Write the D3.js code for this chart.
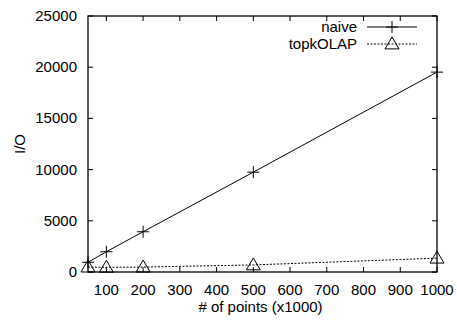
<!DOCTYPE html>
<html>
<head>
<meta charset="utf-8">
<script src="https://cdn.jsdelivr.net/npm/d3@7"></script>
<style>
  body { margin: 0; background: #fff; }
  text { font-family: "Liberation Sans", Arial, sans-serif; fill: #000; }
</style>
</head>
<body>
<svg id="chart" width="457" height="322"></svg>
<script>
const xPoints = [50, 100, 200, 500, 1000];
const naiveIO = [950, 1980, 3930, 9750, 19520];
const topkIO = [480, 460, 480, 690, 1350];
const xTicks = [100, 200, 300, 400, 500, 600, 700, 800, 900, 1000];
const yTicks = [0, 5000, 10000, 15000, 20000, 25000];
const seriesNames = ['naive', 'topkOLAP'];

const svg = d3.select('#chart');
const margin = { top: 16, right: 20, bottom: 50, left: 88 };
const width = 457, height = 322;
const innerW = width - margin.left - margin.right;
const innerH = height - margin.top - margin.bottom;

const x = d3.scaleLinear().domain([50, 1000]).range([margin.left, margin.left + innerW]);
const y = d3.scaleLinear().domain([0, 25000]).range([margin.top + innerH, margin.top]);

const fontSize = '15px';

// ticks, inward on all four sides
const tickLen = 5;
const ax = svg.append('g').attr('stroke', '#000').attr('stroke-width', 1);
xTicks.forEach((t) => {
  ax.append('line').attr('x1', x(t)).attr('x2', x(t)).attr('y1', y(0)).attr('y2', y(0) - tickLen);
  ax.append('line').attr('x1', x(t)).attr('x2', x(t)).attr('y1', y(25000)).attr('y2', y(25000) + tickLen);
});
yTicks.forEach((t) => {
  ax.append('line').attr('x1', x(50)).attr('x2', x(50) + tickLen).attr('y1', y(t)).attr('y2', y(t));
  ax.append('line').attr('x1', x(1000)).attr('x2', x(1000) - tickLen).attr('y1', y(t)).attr('y2', y(t));
});

svg.append('rect')
  .attr('x', x(50)).attr('y', y(25000))
  .attr('width', x(1000) - x(50)).attr('height', y(0) - y(25000))
  .attr('fill', 'none').attr('stroke', '#000').attr('stroke-width', 1.3);

svg.selectAll('text.xtick').data(xTicks).enter().append('text')
  .attr('class', 'xtick')
  .attr('x', (d) => x(d)).attr('y', y(0) + 23)
  .attr('text-anchor', 'middle').style('font-size', fontSize)
  .text((d) => d);

svg.selectAll('text.ytick').data(yTicks).enter().append('text')
  .attr('class', 'ytick')
  .attr('x', x(50) - 11).attr('y', (d) => y(d) + 5)
  .attr('text-anchor', 'end').style('font-size', fontSize)
  .text((d) => d);

svg.append('text')
  .attr('x', (x(50) + x(1000)) / 2 - 2).attr('y', 312)
  .attr('text-anchor', 'middle').style('font-size', fontSize)
  .text('# of points (x1000)');

svg.append('text')
  .attr('transform', `translate(25,${(y(0) + y(25000)) / 2}) rotate(-90)`)
  .attr('text-anchor', 'middle').style('font-size', fontSize)
  .text('I/O');

const line = d3.line().x((d) => x(d[0])).y((d) => y(d[1]));
const naiveData = xPoints.map((v, i) => [v, naiveIO[i]]);
const topkData = xPoints.map((v, i) => [v, topkIO[i]]);

svg.append('path').datum(naiveData).attr('d', line)
  .attr('fill', 'none').attr('stroke', '#000').attr('stroke-width', 1);
svg.append('path').datum(topkData).attr('d', line)
  .attr('fill', 'none').attr('stroke', '#000').attr('stroke-width', 1)
  .attr('stroke-dasharray', '2,1.5');

function plus(g, cx, cy) {
  const s = 6;
  g.append('path')
    .attr('d', `M${cx - s},${cy}H${cx + s}M${cx},${cy - s}V${cy + s}`)
    .attr('stroke', '#000').attr('stroke-width', 1).attr('fill', 'none');
}
function tri(g, cx, cy) {
  const s = 7;
  g.append('path')
    .attr('d', `M${cx},${cy - s}L${cx + s},${cy + s * 0.7}L${cx - s},${cy + s * 0.7}Z`)
    .attr('stroke', '#000').attr('stroke-width', 1).attr('fill', 'none');
}

const marks = svg.append('g');
naiveData.forEach((d) => plus(marks, x(d[0]), y(d[1])));
topkData.forEach((d) => tri(marks, x(d[0]), y(d[1])));

// legend
const legY = [27, 44];
const leg = svg.append('g');
seriesNames.forEach((name, i) => {
  leg.append('text')
    .attr('x', 357).attr('y', legY[i] + 5)
    .attr('text-anchor', 'end').style('font-size', fontSize)
    .text(name);
  leg.append('line')
    .attr('x1', 367).attr('x2', 417).attr('y1', legY[i]).attr('y2', legY[i])
    .attr('stroke', '#000').attr('stroke-width', 1)
    .attr('stroke-dasharray', i === 1 ? '2,1.5' : null);
  if (i === 0) plus(leg, 392, legY[i]);
  else tri(leg, 392, legY[i]);
});
</script>
</body>
</html>
